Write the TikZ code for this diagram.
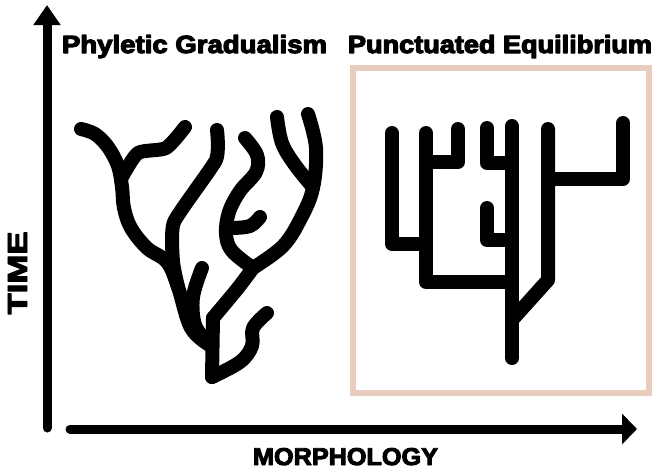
\documentclass[tikz,border=0pt]{standalone}
\usepackage{fontspec}
\usepackage{graphicx}
\usetikzlibrary{arrows.meta}
\newfontfamily\hv{Liberation Sans}
\newcommand\lbl[4]{\resizebox{#1}{#2}{\hv\bfseries\special{pdf:literal direct 2 Tr #3 w 1 j}#4\special{pdf:literal direct 0 Tr}}}
\definecolor{boxpeach}{HTML}{E8CCBD}
\begin{document}
\begin{tikzpicture}[x=1pt,y=-1pt,
  branch/.style={line width=14pt, line cap=round, line join=round},
  axis/.style={line width=9pt, line cap=round},
  txt/.style={inner sep=0pt, outer sep=0pt}]
\useasboundingbox (0,0) rectangle (654,472);
% box
\draw[boxpeach, line width=6.5pt] (353,68) rectangle (649,393);
% labels
\node[txt, anchor=base west] (title1) at (62,53) {\lbl{265pt}{18pt}{0.45}{Phyletic Gradualism}};
\node[txt, anchor=base west] (title2) at (348,53) {\lbl{304pt}{18pt}{0.45}{Punctuated Equilibrium}};
\node[txt, anchor=base west] (xlabel) at (253,465) {\lbl{185pt}{17pt}{0.4}{MORPHOLOGY}};
\node[txt, anchor=base, rotate=90] (ylabel) at (27,273) {\lbl{83pt}{19pt}{0.35}{TIME}};
% axes
\coordinate (yb) at (47,428);
\coordinate (yt) at (47,5);
\coordinate (xb) at (70,429);
\coordinate (xt) at (637,429);
\draw[axis, -{Triangle[length=20pt,width=26pt]}] (yb) -- (yt);
\draw[axis, -{Triangle[length=15pt,width=30pt]}] (xb) -- (xt);
% left tree (phyletic gradualism)
\draw[branch] plot[smooth, tension=0.6] coordinates {(81,129) (95,134) (108,147) (118,166) (122,187) (124,208) (131,228) (147,248) (167,262) (178,287) (191,328) (211,346)};
\draw[branch] plot[smooth, tension=0.4] coordinates {(122,177) (138,153) (166,148) (185,127)};
\draw[branch] plot[smooth, tension=0.3] coordinates {(217,130) (216,160) (174,222) (173,262) (178,287)};
\draw[branch] plot[smooth, tension=0.6] coordinates {(202,268) (193,297) (195,325) (207,341)};
\draw[branch] plot[smooth, tension=0.6] coordinates {(245,138) (257,155) (256,172) (240,191) (229,212) (226,234) (232,251) (253,268)};
\draw[branch] plot[smooth, tension=0.6] coordinates {(232,228) (250,226) (260,217)};
\draw[branch] plot[smooth, tension=0.6] coordinates {(277,117) (282,143) (295,165) (312,186)};
\draw[branch] plot[smooth, tension=0.6] coordinates {(308,114) (316,148) (313,188) (301,218) (283,246) (253,268)};
\draw[branch] plot[smooth, tension=0.4] coordinates {(253,268) (238,288) (213,318)};
\draw[branch] (213,318) -- (212,377);
\draw[branch] plot[smooth, tension=0.6] coordinates {(212,377) (240,362) (252,346) (253,328) (267,313)};
% right tree (punctuated equilibrium)
\draw[branch] (392,133) -- (392,244) -- (426,244);
\draw[branch] (426,133) -- (426,282) -- (512,282);
\draw[branch] (426,162) -- (458,162) -- (458,129);
\draw[branch] (487,128) -- (487,163) -- (512,163);
\draw[branch] (487,208) -- (487,240) -- (512,240);
\draw[branch] (512,126) -- (512,358);
\draw[branch] (512,320) -- (548,280) -- (548,129);
\draw[branch] (548,179) -- (623,179) -- (623,123);
\end{tikzpicture}
\end{document}
